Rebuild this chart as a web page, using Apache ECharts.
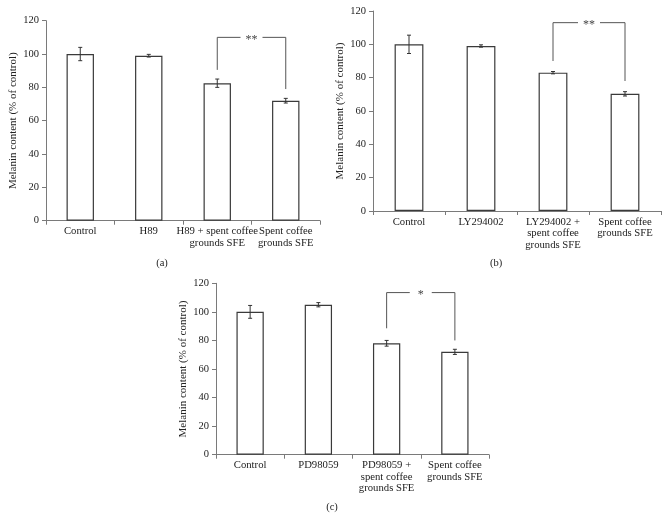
<!DOCTYPE html>
<html>
<head>
<meta charset="utf-8">
<script src="https://cdn.jsdelivr.net/npm/echarts@6/dist/echarts.min.js"></script>
<style>
html,body{margin:0;padding:0;background:#fff;}
#chart{width:668px;height:529px;}
</style>
</head>
<body>
<div id="chart"></div>
<script>
// ---- Data ----
var categoriesA = ['Control', 'H89', 'H89 + spent coffee\ngrounds SFE', 'Spent coffee\ngrounds SFE'];
var valuesA = [100, 99, 82.5, 72];
var errorsA = [4, 0.8, 2.5, 1.4];
var bracketA = [2, 3, 110, 90.5, 79];
var starsA = '**';

var categoriesB = ['Control', 'LY294002', 'LY294002 +\nspent coffee\ngrounds SFE', 'Spent coffee\ngrounds SFE'];
var valuesB = [100, 99, 83, 70.3];
var errorsB = [5.5, 0.7, 0.7, 1.3];
var bracketB = [2, 3, 113, 90, 78];
var starsB = '**';

var categoriesC = ['Control', 'PD98059', 'PD98059 +\nspent coffee\ngrounds SFE', 'Spent coffee\ngrounds SFE'];
var valuesC = [100, 105, 78, 72];
var errorsC = [4.5, 1.5, 2, 1.8];
var bracketC = [2, 3, 113.5, 88.5, 80];
var starsC = '*';

var yTicks = {min: 0, max: 120, interval: 20};
var yTitle = 'Melanin content (% of control)';
var panelLabels = ['(a)', '(b)', '(c)'];

// ---- Styling ----
var FONT = '"Liberation Serif", "DejaVu Serif", serif';
var AXIS_COLOR = '#7a7a7a';
var BAR_BORDER = '#3a3a3a';
var TEXT_COLOR = '#222';

var grids = [
  {left: 46, top: 20.7, width: 274, height: 200},
  {left: 373, top: 11, width: 288, height: 200},
  {left: 216, top: 283.3, width: 273, height: 171.4}
];
var cats = [categoriesA, categoriesB, categoriesC];
var vals = [valuesA, valuesB, valuesC];
var errs = [errorsA, errorsB, errorsC];
var brackets = [bracketA, bracketB, bracketC];
var stars = [starsA, starsB, starsC];

var xAxes = [], yAxes = [], series = [];
for (var i = 0; i < 3; i++) {
  xAxes.push({
    type: 'category', gridIndex: i, data: cats[i],
    axisLine: {lineStyle: {color: AXIS_COLOR, width: 1}},
    axisTick: {show: true, length: 4, lineStyle: {color: AXIS_COLOR}},
    axisLabel: {interval: 0, color: TEXT_COLOR, fontFamily: FONT, fontSize: 10.7, lineHeight: 11.5, margin: 5}
  });
  yAxes.push({
    type: 'value', gridIndex: i, min: yTicks.min, max: yTicks.max, interval: yTicks.interval,
    name: yTitle, nameLocation: 'middle', nameGap: 27,
    nameTextStyle: {color: TEXT_COLOR, fontFamily: FONT, fontSize: 11},
    axisLine: {show: true, lineStyle: {color: AXIS_COLOR, width: 1}},
    axisTick: {show: true, length: 4, lineStyle: {color: AXIS_COLOR}},
    axisLabel: {color: TEXT_COLOR, fontFamily: FONT, fontSize: 10.5, margin: 7},
    splitLine: {show: false}
  });
  series.push({
    type: 'bar', xAxisIndex: i, yAxisIndex: i, data: vals[i], barWidth: '40%',
    itemStyle: {color: '#fff', borderColor: BAR_BORDER, borderWidth: 1.2},
    silent: true
  });
  var ed = vals[i].map(function (v, k) { return [k, v - errs[i][k], v + errs[i][k]]; });
  series.push({
    type: 'custom', xAxisIndex: i, yAxisIndex: i, data: ed, silent: true, z: 5,
    renderItem: function (params, api) {
      var x = api.value(0);
      var lo = api.coord([x, api.value(1)]);
      var hi = api.coord([x, api.value(2)]);
      var hw = 2;
      var st = {stroke: '#333', lineWidth: 1};
      return {type: 'group', children: [
        {type: 'line', shape: {x1: lo[0], y1: lo[1], x2: hi[0], y2: hi[1]}, style: st},
        {type: 'line', shape: {x1: lo[0] - hw, y1: lo[1], x2: lo[0] + hw, y2: lo[1]}, style: st},
        {type: 'line', shape: {x1: hi[0] - hw, y1: hi[1], x2: hi[0] + hw, y2: hi[1]}, style: st}
      ]};
    }
  });
  (function (starText) {
    series.push({
      type: 'custom', xAxisIndex: i, yAxisIndex: i, data: [brackets[i]], silent: true, z: 6,
      renderItem: function (params, api) {
        var x1 = api.value(0), x2 = api.value(1), top = api.value(2);
        var pL = api.coord([x1, top]), pR = api.coord([x2, top]);
        var bL = api.coord([x1, api.value(3)]), bR = api.coord([x2, api.value(4)]);
        var mid = (pL[0] + pR[0]) / 2;
        var gap = 11;
        var st = {stroke: '#555', lineWidth: 1, fill: null};
        return {type: 'group', children: [
          {type: 'polyline', shape: {points: [[bL[0], bL[1]], [pL[0], pL[1]], [mid - gap, pL[1]]]}, style: st},
          {type: 'polyline', shape: {points: [[mid + gap, pR[1]], [pR[0], pR[1]], [bR[0], bR[1]]]}, style: st},
          {type: 'text', x: mid, y: pL[1] + 2, style: {text: starText, fill: '#444', font: '12px ' + FONT, textAlign: 'center', textVerticalAlign: 'middle'}}
        ]};
      }
    });
  })(stars[i]);
}

var chart = echarts.init(document.getElementById('chart'), null, {renderer: 'canvas'});
chart.setOption({
  animation: false,
  backgroundColor: '#fff',
  grid: grids,
  xAxis: xAxes,
  yAxis: yAxes,
  series: series,
  graphic: [
    {type: 'text', x: 162, y: 263, style: {text: panelLabels[0], fill: TEXT_COLOR, font: '10.5px ' + FONT, textAlign: 'center', textVerticalAlign: 'middle'}},
    {type: 'text', x: 496, y: 263, style: {text: panelLabels[1], fill: TEXT_COLOR, font: '10.5px ' + FONT, textAlign: 'center', textVerticalAlign: 'middle'}},
    {type: 'text', x: 332, y: 507, style: {text: panelLabels[2], fill: TEXT_COLOR, font: '10.5px ' + FONT, textAlign: 'center', textVerticalAlign: 'middle'}}
  ]
});
</script>
</body>
</html>
